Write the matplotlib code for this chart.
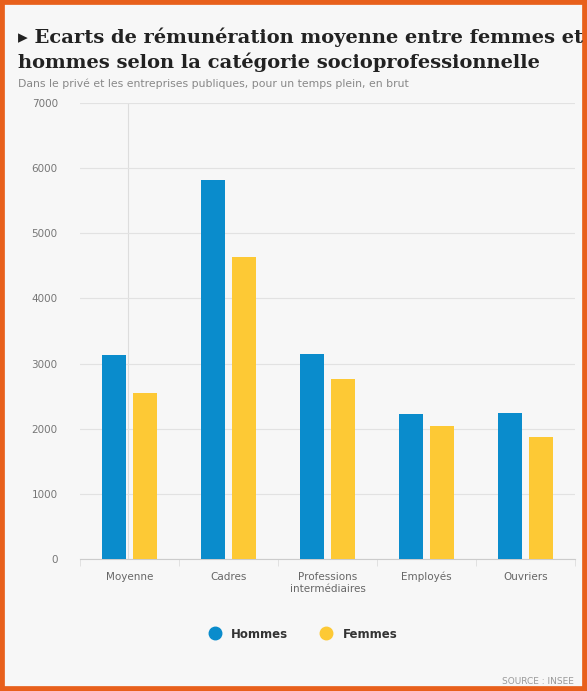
import numpy as np
import matplotlib.pyplot as plt
from matplotlib.patches import Rectangle
from matplotlib.lines import Line2D

categories = ['Moyenne', 'Cadres', 'Professions\nintermédiaires', 'Employés', 'Ouvriers']
hommes = [3130, 5820, 3150, 2225, 2240]
femmes = [2550, 4640, 2760, 2040, 1870]
yticks = [0, 1000, 2000, 3000, 4000, 5000, 6000, 7000]

blue = '#0a8ccc'
yellow = '#fdc935'
bg = '#f7f7f7'

W, H = 587, 691
fig = plt.figure(figsize=(W / 100, H / 100), dpi=100, facecolor=bg)

# orange frame
fig.patches.append(Rectangle((0, 0), 1, 1, transform=fig.transFigure,
                             fill=False, edgecolor='#e8601c', linewidth=7))

ax = fig.add_axes([80 / W, 1 - 559 / H, (575 - 80) / W, (559 - 103) / H])
ax.set_facecolor(bg)

x = np.arange(len(categories))
bw = 0.24
ax.bar(x - 0.155, hommes, bw, color=blue, zorder=3)
ax.bar(x + 0.155, femmes, bw, color=yellow, zorder=3)

ax.set_xlim(-0.5, len(categories) - 0.5)
ax.set_ylim(0, 7000)
ax.set_yticks(yticks)
ax.set_yticklabels([str(v) for v in yticks], fontsize=7.5, color='#777777')
ax.set_xticks(x)
ax.set_xticklabels(categories, fontsize=7.5, color='#666666', linespacing=1.3)
ax.tick_params(axis='both', length=0)
ax.tick_params(axis='y', pad=16)
ax.tick_params(axis='x', pad=9)
ax.set_xticks(np.arange(len(categories) + 1) - 0.5, minor=True)
ax.tick_params(axis='x', which='minor', length=5, color='#dddddd')
ax.grid(axis='y', color='#e2e2e2', linewidth=0.8, zorder=0)
for s in ['top', 'right', 'left']:
    ax.spines[s].set_visible(False)
ax.spines['bottom'].set_color('#cccccc')
ax.axvline(-0.02, color='#dddddd', linewidth=0.8, zorder=1)

fig.text(18 / W, 1 - 37 / H, '▸ Ecarts de rémunération moyenne entre femmes et',
         fontsize=14, fontweight='bold', family='DejaVu Serif', color='#222222',
         va='center', ha='left')
fig.text(18 / W, 1 - 62 / H, 'hommes selon la catégorie socioprofessionnelle',
         fontsize=14, fontweight='bold', family='DejaVu Serif', color='#222222',
         va='center', ha='left')
fig.text(18 / W, 1 - 84 / H, 'Dans le privé et les entreprises publiques, pour un temps plein, en brut',
         fontsize=7.8, color='#888888', va='center', ha='left')

handles = [Line2D([], [], marker='o', linestyle='', markersize=9, color=blue),
           Line2D([], [], marker='o', linestyle='', markersize=9, color=yellow)]
leg = fig.legend(handles, ['Hommes', 'Femmes'], loc='center', ncol=2,
                 bbox_to_anchor=(300 / W, 1 - 634 / H), frameon=False,
                 handletextpad=0.4, columnspacing=2.2,
                 prop={'weight': 'bold', 'size': 8.5})
for t in leg.get_texts():
    t.set_color('#333333')

fig.text(574 / W, 1 - 681 / H, 'SOURCE : INSEE', fontsize=6.5, color='#999999',
         ha='right', va='center')

fig.savefig('out.png', dpi=100, facecolor=bg)
